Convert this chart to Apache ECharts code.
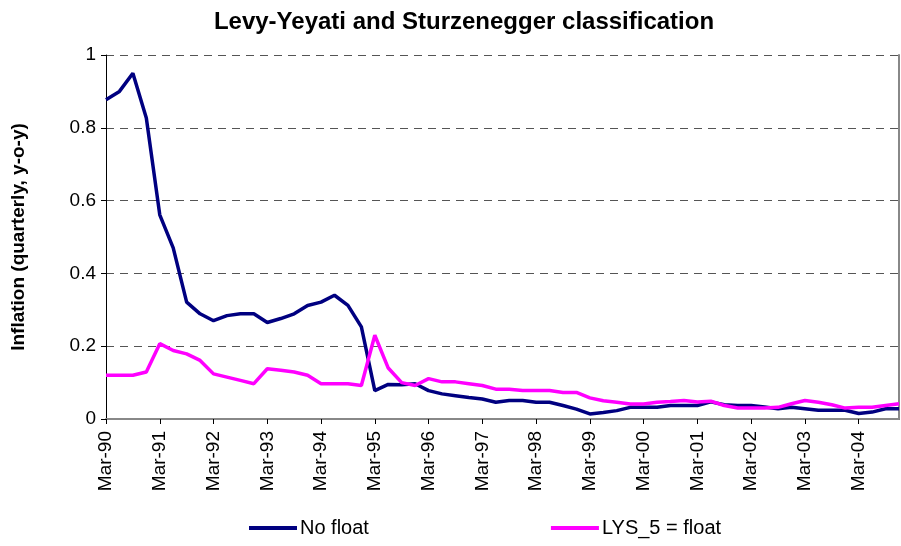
<!DOCTYPE html>
<html>
<head>
<meta charset="utf-8">
<script src="https://cdn.jsdelivr.net/npm/echarts@6/dist/echarts.min.js"></script>
<style>
  html, body { margin: 0; padding: 0; background: #fff; }
  #container { width: 901px; height: 546px; }
</style>
</head>
<body>
<div id="container"></div>
<script>
// quarters Mar-90 .. Dec-04
let months = ['Mar', 'Jun', 'Sep', 'Dec'];
let quarters = [];
for (let y = 90; y <= 104; y++) {
    let yy = String(y % 100).padStart(2, '0');
    months.forEach(function (m) { quarters.push(m + '-' + yy); });
}

let noFloat = [
    0.877, 0.900, 0.950, 0.827, 0.561, 0.470, 0.321, 0.289, 0.270, 0.284,
    0.289, 0.289, 0.265, 0.276, 0.289, 0.312, 0.321, 0.340, 0.312, 0.253,
    0.078, 0.095, 0.094, 0.097, 0.078, 0.069, 0.064, 0.059, 0.055, 0.046,
    0.051, 0.051, 0.046, 0.046, 0.037, 0.027, 0.014, 0.018, 0.023, 0.032,
    0.032, 0.032, 0.037, 0.037, 0.037, 0.047, 0.039, 0.037, 0.037, 0.033,
    0.028, 0.032, 0.028, 0.024, 0.024, 0.024, 0.015, 0.019, 0.028, 0.028
];
let lysFloat = [
    0.120, 0.120, 0.120, 0.129, 0.207, 0.188, 0.179, 0.161, 0.124, 0.115,
    0.106, 0.097, 0.138, 0.134, 0.129, 0.120, 0.097, 0.097, 0.097, 0.092,
    0.230, 0.140, 0.100, 0.092, 0.111, 0.102, 0.102, 0.097, 0.092, 0.082,
    0.082, 0.078, 0.078, 0.078, 0.073, 0.073, 0.058, 0.050, 0.046, 0.041,
    0.041, 0.046, 0.048, 0.051, 0.047, 0.049, 0.037, 0.030, 0.030, 0.030,
    0.032, 0.042, 0.051, 0.046, 0.039, 0.030, 0.032, 0.032, 0.037, 0.042
];

let dom = document.getElementById("container");
let myChart = echarts.init(dom);
let font = 'Liberation Sans, Arial, sans-serif';

let option = {
    animation: false,
    title: {
        text: 'Levy-Yeyati and Sturzenegger classification',
        left: 459,
        textAlign: 'center',
        top: 5,
        textStyle: { fontFamily: font, fontSize: 24, fontWeight: 'bold', color: '#000' }
    },
    legend: {
        top: 513,
        left: 244,
        itemGap: 182,
        icon: 'rect',
        itemWidth: 48,
        itemHeight: 4,
        textStyle: { fontFamily: font, fontSize: 20, color: '#000', padding: [0, 0, 0, -2] },
        data: ['No float', 'LYS_5 = float']
    },
    grid: { left: 106, right: 2, top: 55, bottom: 127 },
    xAxis: [{
        type: 'category',
        data: quarters,
        boundaryGap: false,
        axisLine: { lineStyle: { color: '#000', width: 1 } },
        axisTick: { interval: 3, length: 5, lineStyle: { color: '#000' } },
        axisLabel: {
            interval: 3,
            rotate: 90,
            margin: 12,
            fontFamily: font,
            fontSize: 19,
            color: '#000'
        }
    }, {
        type: 'category',
        position: 'top',
        data: quarters,
        boundaryGap: false,
        axisLine: { lineStyle: { color: '#888', width: 2 } },
        axisTick: { show: false },
        axisLabel: { show: false }
    }],
    yAxis: [{
        type: 'value',
        min: 0,
        max: 1,
        interval: 0.2,
        name: 'Inflation (quarterly, y-o-y)',
        nameLocation: 'middle',
        nameGap: 78,
        nameTextStyle: { fontFamily: font, fontSize: 19, fontWeight: 'bold', color: '#000' },
        axisLine: { show: true, lineStyle: { color: '#000' } },
        axisTick: { show: true, length: 5, lineStyle: { color: '#000' } },
        axisLabel: { fontFamily: font, fontSize: 19, color: '#000', margin: 10 },
        splitLine: { lineStyle: { type: [8, 6], color: '#555' } }
    }, {
        type: 'value',
        position: 'right',
        min: 0,
        max: 1,
        interval: 0.2,
        axisLine: { show: true, lineStyle: { color: '#888', width: 2 } },
        axisTick: { show: false },
        axisLabel: { show: false },
        splitLine: { show: false }
    }],
    series: [{
        name: 'No float',
        type: 'line',
        data: noFloat,
        showSymbol: false,
        color: '#000080',
        lineStyle: { width: 3.5 }
    }, {
        name: 'LYS_5 = float',
        type: 'line',
        data: lysFloat,
        showSymbol: false,
        color: '#ff00ff',
        lineStyle: { width: 3.5 }
    }]
};

myChart.setOption(option);
</script>
</body>
</html>
